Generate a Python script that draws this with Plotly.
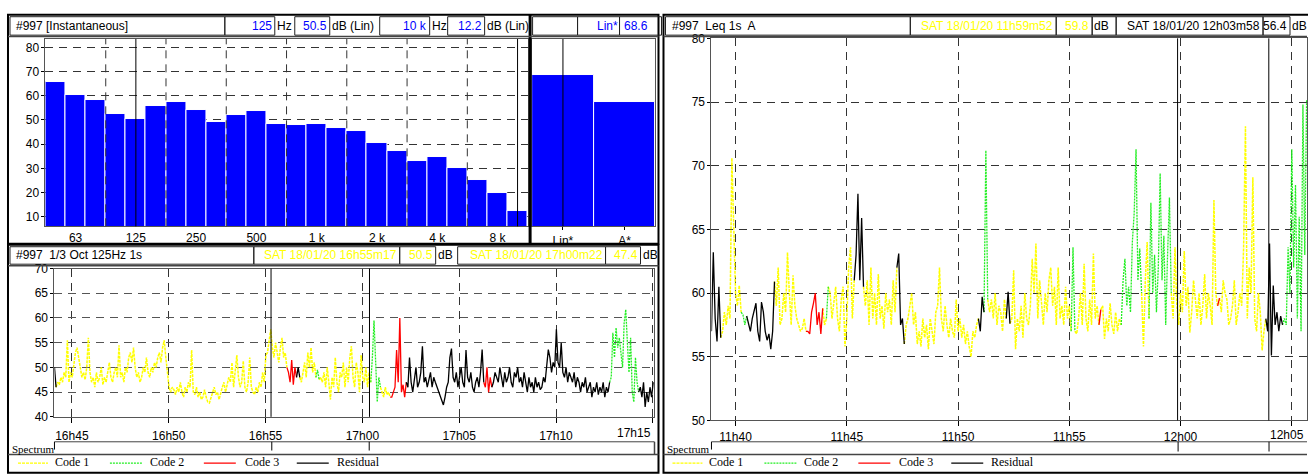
import plotly.graph_objects as go
import pandas as pd

W, H = 1308, 475

# ---------------- DATA ----------------
band_labels = ["50", "63", "80", "100", "125", "160", "200", "250", "315", "400", "500", "630",
               "800", "1 k", "1.25 k", "1.6 k", "2 k", "2.5 k", "3.15 k", "4 k", "5 k", "6.3 k", "8 k", "10 k"]
band_levels = [65.7, 60.5, 58.2, 52.6, 50.5, 55.8, 57.4, 54.2, 49.0, 52.2, 53.8, 48.2,
               47.8, 48.2, 46.5, 45.3, 40.5, 37.3, 32.9, 34.5, 30.2, 25.3, 19.6, 12.2]
spec_tick_labels = ["63", "125", "250", "500", "1 k", "2 k", "4 k", "8 k"]
spec_grid_bands = ["100", "200", "400", "800", "1.6 k", "3.15 k", "6.3 k"]
spec_cursor_bands = ["125", "10 k"]
overall_labels = ["Lin*", "A*"]
overall_levels = [68.6, 57.6]

left_start = "2020-01-18 16:44:06"
left_step_s = 5
left_end = "2020-01-18 17:15:05"
left_levels = [
    50, 46,
    47, 46.5, 48, 47, 49, 48, 55.5, 47, 49, 48, 51, 53, 54, 52, 50, 48, 49, 47.5, 50,
    56, 49, 47, 48, 46, 49, 47, 48, 50, 46.5, 48, 47, 49, 51, 48, 47, 49, 50, 48, 54.5,
    48, 49, 47, 50, 49, 52, 53, 51, 54, 50, 48, 49, 47, 48, 50, 49, 52,
    49, 48, 50, 49, 51, 50, 52, 53, 51, 54, 55.5, 52, 49, 46,
    45, 46, 45.5, 44.5, 46, 45, 47, 45, 44, 46, 45, 47, 46, 53.5,
    45, 44.5, 46, 44, 45, 43.5, 44, 45.5, 44, 43, 42.8, 44, 45, 46, 44.5,
    45, 43.5, 45, 46, 47, 45, 46.5, 48, 47, 51, 46, 49, 52.5, 48, 46,
    47, 51.3, 46, 45, 47, 52, 46, 45, 44.5, 46, 45, 47, 46, 49, 47, 52.5,
    53, 55, 57.7, 54, 52, 55, 53, 51, 54, 56, 52, 53, 50,
    49, 47, 51.5, 46.5, 50, 48,
    50, 48,
    47, 49, 51, 48, 53, 50, 54, 49, 51, 48,
    49.5, 47.5,
    48, 47, 49, 46, 50, 47, 43.5, 48, 46, 52, 47, 45, 49, 48, 51, 46,
    50, 47, 52, 54.3, 48, 46, 51, 49, 45, 52.5, 48, 47, 50, 46, 49, 47,
    52, 59.5, 50, 43, 48, 46,
    45, 44, 46, 44.5, 45, 44,
    44, 45, 46, 53.5, 47, 60, 45, 46.5, 44, 47,
    46, 52, 47, 45, 48, 50, 46, 47, 49, 54.3, 47, 48, 46, 47.5, 49, 46,
    48, 47, 46, 45, 44, 43, 42.4, 44, 46, 47, 52, 53.8, 48, 47, 49, 46,
    48, 50, 47, 46, 53.5, 48, 47, 49, 46, 45, 47, 48, 46, 49, 53.6, 47,
    46, 50, 45, 48, 46,
    47, 49, 48, 47, 50, 48, 46, 49, 47, 48, 50, 47, 46, 49, 48, 50,
    47, 48, 46, 49, 47, 45, 48, 46, 47, 45, 48, 46, 47, 45.5, 46, 48,
    47, 50, 53.6, 52, 49, 51, 50, 57.7, 51, 50, 55, 49, 48, 50, 47, 49,
    48, 47, 49, 46, 48, 47, 45, 47, 46, 48, 45, 46, 47, 44, 46, 45,
    47, 44.5, 46, 45, 47, 44, 46, 45, 47,
    48, 57, 52, 58, 54, 56, 53, 50, 59, 61.7, 55, 49, 56, 45, 43, 52, 47, 45,
    46, 44, 47, 42, 45, 43, 46, 44, 47,
]
left_code_runs = [("Residual", 2), ("Code 1", 143), ("Code 3", 6), ("Residual", 2), ("Code 1", 10),
                  ("Code 2", 2), ("Code 1", 32), ("Code 2", 6), ("Code 1", 6), ("Code 3", 10),
                  ("Residual", 48), ("Code 3", 5), ("Residual", 73), ("Code 2", 18), ("Residual", 9)]
left_cursors = ["2020-01-18 16:55:17", "2020-01-18 17:00:22"]
left_ticks = ["2020-01-18 16:45", "2020-01-18 16:50", "2020-01-18 16:55", "2020-01-18 17:00",
              "2020-01-18 17:05", "2020-01-18 17:10", "2020-01-18 17:15"]

right_start = "2020-01-18 11:38:55"
right_step_s = 5
right_end = "2020-01-18 12:05:41"
right_levels = [
    57, 63.2, 58, 56.2, 60.5, 56.5,
    57, 58.5, 57.5, 59, 58, 70.6, 66, 60, 59, 60.6, 58.5,
    58.3, 57.5, 58.2,
    57.5, 57, 58, 58.5, 59.2, 57, 56.2, 59.3, 58.5, 57, 56.3, 56.8, 55.6, 57, 60.9,
    59, 62, 57.5, 58, 60, 58.5, 63.2, 60, 57.5, 61.4, 59, 58, 57.5, 57, 57.2, 58, 57,
    57, 56.8, 58.5, 59.2, 60, 57.5, 58.5, 56.8, 58.8,
    57.5, 58,
    60.5,
    60, 58, 59.5, 60.5, 58, 57, 59.5, 60.5, 55.8, 58, 62, 63.6, 58, 61,
    63, 67.8, 61, 65.9, 60.5,
    59, 61, 57.5, 62, 58, 60, 57.5, 61.5, 58, 59, 57.2, 60, 58.5, 59.5, 57.5, 61, 58.5, 62,
    63.1, 57.5, 58, 56,
    57.5, 58, 59, 60, 57.5, 58.5, 56, 57, 55.8, 58, 56.5, 57.5, 55.6, 58, 57, 56, 58.5, 59, 62, 58,
    57, 59, 57.5, 56.5, 58, 57, 56.5, 59.5, 57, 58, 56.5, 57.5, 56, 57, 55.8, 55, 57, 56.5, 57.5, 58,
    57, 59.7, 58.5,
    71.2, 59.5,
    58.5, 59.5, 58, 60, 57.5, 59, 58.5, 57, 59.5, 58,
    60.1, 57.6,
    58, 61.8, 55.6, 58, 57, 59, 56.5, 60, 58, 57.5, 59, 62.7, 60, 63.9, 58, 61, 59.5,
    57.5, 60, 58.5, 61, 62, 59, 60.5, 57.5, 62, 58, 59, 57.5, 60.5, 58, 59, 57,
    63.6, 57,
    56.8, 58, 60, 57.5, 62.3, 58, 57, 59.5, 57.5, 63.1, 58, 59, 57.5,
    58.7,
    59, 56.4, 58, 57, 59.2, 57.5, 56.8, 58.5, 57, 58, 57.5,
    61, 62.7, 59, 60.5, 58.5, 64, 66.3, 71.3, 61, 63.5, 60,
    55.8, 61, 64, 58,
    67.1, 60, 63, 58.5, 62, 69.4, 61, 64.5, 57.5, 63, 67.5, 60,
    58, 63.6, 59, 57.5, 60, 58.5, 63.3, 59, 60.5, 56.9, 58.5, 61, 59.5, 58, 60, 57.5,
    59, 61.5, 58, 60, 59, 57.5, 67.3, 60, 59,
    59.6,
    58.5, 61, 60, 59.5, 57.5, 58, 59, 61, 57.5, 58.5, 60, 59, 63.5, 73.1, 58, 62,
    60, 69.1, 58, 57, 60, 58.5, 55.5, 57, 58,
    57, 63.9, 55.1, 60.6, 57.5, 58.5, 57, 58.2, 57.5,
    58, 57.5, 63.6, 60, 71.3, 62, 68.5, 58, 66, 57, 74.8, 63, 75.2,
]
right_code_runs = [("Residual", 6), ("Code 1", 11), ("Code 2", 3), ("Residual", 15), ("Code 1", 17),
                   ("Code 3", 9), ("Code 1", 2), ("Code 2", 1), ("Code 1", 14), ("Residual", 5),
                   ("Code 1", 18), ("Residual", 4), ("Code 1", 40), ("Residual", 3), ("Code 2", 2),
                   ("Code 1", 10), ("Residual", 2), ("Code 1", 33), ("Code 2", 2), ("Code 1", 13),
                   ("Code 3", 1), ("Code 1", 11), ("Code 2", 11), ("Code 1", 4), ("Code 2", 12),
                   ("Code 1", 25), ("Code 3", 1), ("Code 1", 25), ("Residual", 9), ("Code 2", 13)]
right_cursors = ["2020-01-18 11:59:52", "2020-01-18 12:03:58"]
right_ticks = ["2020-01-18 11:40", "2020-01-18 11:45", "2020-01-18 11:50", "2020-01-18 11:55",
               "2020-01-18 12:00", "2020-01-18 12:05"]

code_names = ["Code 1", "Code 2", "Code 3", "Residual"]
code_colors = ["#FFFF00", "#22EE22", "#FF0000", "#000000"]
code_dash = ["3px,1px", "2px,1px", "solid", "solid"]
code_width = [1.5, 1.3, 1.3, 1.3]

# ---------------- HELPERS ----------------
SANS = "Liberation Sans, Arial, sans-serif"
SERIF = "Liberation Serif, Times New Roman, serif"


def px(x):
    return x / W


def py(y):
    return 1 - y / H


shapes = []
annotations = []


def rect(x0, y0, x1, y1, color="#000", width=1, fill=None):
    shapes.append(dict(type="rect", xref="paper", yref="paper", x0=px(x0), x1=px(x1),
                       y0=py(y1), y1=py(y0), line=dict(color=color, width=width),
                       fillcolor=fill if fill else "rgba(0,0,0,0)", layer="above"))


def line(x0, y0, x1, y1, color="#000", width=1, dash="solid"):
    shapes.append(dict(type="line", xref="paper", yref="paper", x0=px(x0), x1=px(x1),
                       y0=py(y0), y1=py(y1), line=dict(color=color, width=width, dash=dash),
                       layer="above"))


def text(x, y, s, color="#000", size=12, anchor="left", family=SANS):
    annotations.append(dict(xref="paper", yref="paper", x=px(x), y=py(y), text=s,
                            showarrow=False, xanchor=anchor, yanchor="middle",
                            font=dict(family=family, size=size, color=color)))


fig = go.Figure()

# ---------------- SPECTRUM (top-left) ----------------
idx = list(range(len(band_levels)))
fig.add_trace(go.Bar(x=idx, y=band_levels, xaxis="x", yaxis="y", marker=dict(color="#0000FF",
                     line=dict(color="#FFFFFF", width=1)), width=1.0, showlegend=False,
                     hoverinfo="skip"))
oi = list(range(len(overall_levels)))
fig.add_trace(go.Bar(x=oi, y=overall_levels, xaxis="x2", yaxis="y2", marker=dict(color="#0000FF",
                     line=dict(color="#FFFFFF", width=1)), width=1.0, showlegend=False,
                     hoverinfo="skip"))


# ---------------- TIME SERIES ----------------
def series_traces(start, step, levels, runs, xa, ya):
    times = list(pd.date_range(start=start, periods=len(levels), freq=f"{step}s"))
    codes = []
    for c, n in runs:
        codes += [c] * n
    for name, color, dash, w in zip(code_names, code_colors, code_dash, code_width):
        xs, ys = [], []
        j, n = 0, len(levels)
        while j < n:
            if codes[j] == name:
                k = j
                while k < n and codes[k] == name:
                    k += 1
                s = max(j - 1, 0)
                xs += times[s:k] + [None]
                ys += levels[s:k] + [None]
                j = k
            else:
                j += 1
        fig.add_trace(go.Scatter(x=xs, y=ys, xaxis=xa, yaxis=ya, mode="lines",
                                 line=dict(color=color, width=w, dash=dash),
                                 showlegend=False, hoverinfo="skip"))


series_traces(left_start, left_step_s, left_levels, left_code_runs, "x3", "y3")
series_traces(right_start, right_step_s, right_levels, right_code_runs, "x4", "y4")

GRID = "#333333"
GD = "8px,6px"
axis_common = dict(showline=True, linecolor="#555555", linewidth=1, mirror=True,
                   tickfont=dict(family=SANS, size=12, color="#000"), zeroline=False,
                   ticks="outside", ticklen=3, tickcolor="#000")

spec_tickvals = [band_labels.index(l) for l in spec_tick_labels]
spec_grid = [band_labels.index(l) - 0.5 for l in spec_grid_bands]

layout = dict(
    width=W, height=H, margin=dict(l=0, r=0, t=0, b=0),
    paper_bgcolor="#FFFFFF", plot_bgcolor="#FFFFFF", bargap=0,
    xaxis=dict(domain=[px(45.5), px(528)], range=[-0.5, len(band_levels) - 0.5],
               tickvals=spec_tickvals, ticktext=spec_tick_labels, showgrid=False, anchor="y",
               **{**axis_common, "ticks": ""}),
    yaxis=dict(domain=[py(226), py(33)], range=[6, 83.5], dtick=10, tick0=0,
               showgrid=True, gridcolor=GRID, griddash=GD, gridwidth=1, anchor="x",
               **axis_common),
    xaxis2=dict(domain=[px(532.5), px(656)], range=[-0.5, 1.5], tickvals=oi,
                ticktext=overall_labels, showgrid=False, anchor="y2", **axis_common),
    yaxis2=dict(domain=[py(226), py(33)], range=[6, 83.5], showticklabels=False,
                showgrid=False, anchor="x2", **{**axis_common, "ticks": ""}),
    xaxis3=dict(domain=[px(54.5), px(655)], range=[left_start, left_end], type="date",
                tickvals=left_ticks,
                ticktext=[pd.Timestamp(t).strftime("%Hh%M") for t in left_ticks[:-1]] + [""],
                showgrid=True, gridcolor=GRID, griddash=GD, anchor="y3",
                ticklabelstandoff=3, **{**axis_common, "ticklen": 5}),
    yaxis3=dict(domain=[py(422.3), py(269.5)], range=[40, 70], dtick=5, showgrid=True,
                gridcolor="#555555", griddash=GD, anchor="x3", **axis_common),
    xaxis4=dict(domain=[px(712), 1.0], range=[right_start, right_end], type="date",
                tickvals=right_ticks,
                ticktext=[pd.Timestamp(t).strftime("%Hh%M") for t in right_ticks[:-1]] + [""],
                showgrid=True, gridcolor=GRID, griddash=GD, anchor="y4",
                **{**axis_common, "ticklen": 5}),
    yaxis4=dict(domain=[py(426), py(32.3)], range=[50, 80], dtick=5, showgrid=True,
                gridcolor=GRID, griddash=GD, anchor="x4", **axis_common),
)

# spectrum vertical grid & cursors
for g in spec_grid:
    shapes.append(dict(type="line", xref="x", yref="y domain", x0=g, x1=g, y0=0, y1=1,
                       line=dict(color=GRID, width=1, dash=GD), layer="above"))
for cb in spec_cursor_bands:
    c = band_labels.index(cb)
    shapes.append(dict(type="line", xref="x", yref="y domain", x0=c, x1=c, y0=0, y1=1,
                       line=dict(color="#000", width=1), layer="above"))
shapes.append(dict(type="line", xref="x2", yref="y2 domain", x0=0, x1=0, y0=0, y1=1,
                   line=dict(color="#000", width=1), layer="above"))
for cur in left_cursors:
    shapes.append(dict(type="line", xref="x3", yref="y3 domain", x0=cur, x1=cur, y0=0, y1=1,
                       line=dict(color="#000", width=1), layer="above"))
for cur in right_cursors:
    shapes.append(dict(type="line", xref="x4", yref="y4 domain", x0=cur, x1=cur, y0=0, y1=1,
                       line=dict(color="#000", width=1), layer="above"))

# edge tick labels kept inside their panels (same row as the axis labels)
text(653, 439, pd.Timestamp(left_ticks[-1]).strftime("%Hh%M"), anchor="right")
text(1307, 441, pd.Timestamp(right_ticks[-1]).strftime("%Hh%M"), anchor="right")

# ---------------- FRAMES & HEADERS ----------------
rect(8, 8, 659, 244, width=2)
rect(8, 245, 659, 480, width=2)
rect(664, 8, 1312, 480, width=2)
line(530.5, 8, 530.5, 244, width=3)
line(8, 30.5, 659, 30.5, color="#444", width=1.5)
line(8, 266.5, 659, 266.5, color="#444", width=1.5)
line(664, 30.5, 1308, 30.5, color="#444", width=1.5)

# top-left header
hdr_y0, hdr_y1 = 10, 29
for x0, x1 in [(10, 225), (225, 275), (295, 330), (380, 430), (448, 485), (533, 578), (578, 620), (620, 662)]:
    rect(x0, hdr_y0, x1, hdr_y1, color="#222", width=1)
text(14, 19.5, "#997 [Instantaneous]")
text(274, 19.5, "125", color="#0000FF", anchor="right")
text(275, 19.5, "Hz")
text(329, 19.5, "50.5", color="#0000FF", anchor="right")
text(330, 19.5, "dB (Lin)")
text(429, 19.5, "10 k", color="#0000FF", anchor="right")
text(430, 19.5, "Hz")
text(484, 19.5, "12.2", color="#0000FF", anchor="right")
text(485, 19.5, "dB (Lin)")
text(620, 19.5, "Lin*", color="#0000FF", anchor="right")
text(622, 19.5, "68.6", color="#0000FF")

# bottom-left header
b0, b1 = 247, 265
for x0, x1 in [(10, 254), (254, 400), (400, 436), (458, 606), (606, 641)]:
    rect(x0, b0, x1, b1, color="#222", width=1)
by = 256
text(14, by, "#997  1/3 Oct 125Hz 1s")
text(399, by, "SAT 18/01/20 16h55m17", color="#FFFF00", anchor="right")
text(435, by, "50.5", color="#FFFF00", anchor="right")
text(436, by, "dB")
text(605, by, "SAT 18/01/20 17h00m22", color="#FFFF00", anchor="right")
text(640, by, "47.4", color="#FFFF00", anchor="right")
text(641, by, "dB")

# right header
for x0, x1 in [(666, 911), (911, 1057), (1057, 1093), (1093, 1117), (1117, 1264), (1264, 1291)]:
    rect(x0, hdr_y0, x1, hdr_y1, color="#222", width=1)
text(671, 19.5, "#997  Leq 1s  A")
text(1056, 19.5, "SAT 18/01/20 11h59m52", color="#FFFF00", anchor="right")
text(1092, 19.5, "59.8", color="#FFFF00", anchor="right")
text(1093, 19.5, "dB")
text(1263, 19.5, "SAT 18/01/20 12h03m58", anchor="right")
text(1290, 19.5, "56.4", anchor="right")
text(1291, 19.5, "dB")

# spectrum rows
text(10, 455, "Spectrum", size=11, family=SERIF)
line(54.5, 448, 655, 448, color="#444", width=1)
line(54.5, 448, 54.5, 456, color="#000", width=1)
line(655, 448, 655, 461, color="#444", width=1.5)
for xc in [272, 369.5]:
    line(xc, 448, xc, 457, color="#000", width=1)
text(666, 455, "Spectrum", size=11, family=SERIF)
line(712, 448, 1308, 448, color="#444", width=1)
line(712, 448, 712, 456, color="#000", width=1)
for xc in [1179, 1270]:
    line(xc, 448, xc, 458, color="#000", width=1)

# legend rows
line(8, 461, 659, 461, color="#444", width=1.5)
line(664, 461, 1308, 461, color="#444", width=1.5)
leg_line_x = [(18, 48), (110, 142), (204, 236), (297, 329)]
leg_text_x = [53, 148, 243, 335]
for off in [0, 655]:
    for (a, b), tx, name, color, dash in zip(leg_line_x, leg_text_x, code_names, code_colors, code_dash):
        line(a + off, 470, b + off, 470, color=color, width=1.3, dash=dash)
        text(tx + off, 469, name, size=12, family=SERIF)

layout["shapes"] = shapes
layout["annotations"] = annotations
fig.update_layout(**layout)

fig.write_html("out.html", config={"displayModeBar": False},
               post_script="document.body.style.margin='0';document.body.style.overflow='hidden';")
